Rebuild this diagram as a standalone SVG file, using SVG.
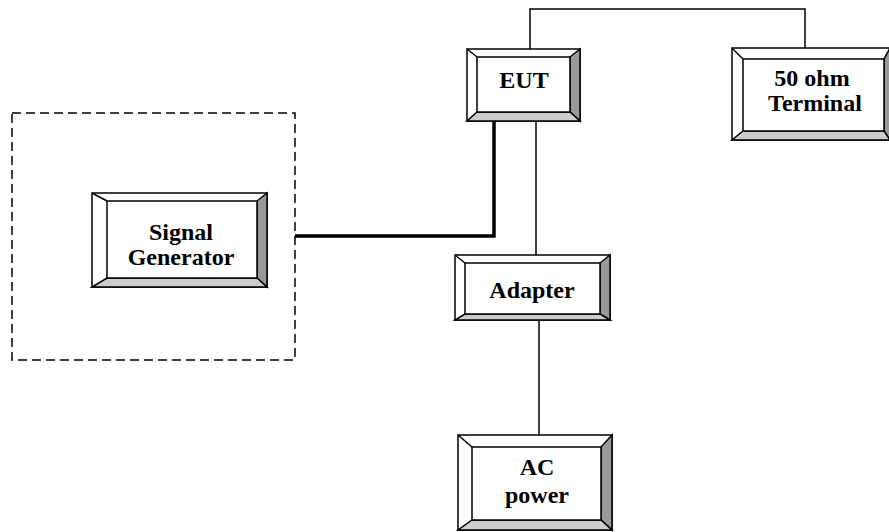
<svg xmlns="http://www.w3.org/2000/svg" width="889" height="532" viewBox="0 0 889 532">
<style>
.o{fill:#fff;stroke:#000;stroke-width:1.5}
.r{fill:#999;stroke:#000;stroke-width:1.5;stroke-linejoin:miter}
.b{fill:#ccc;stroke:#000;stroke-width:1.5}
.i{fill:#fff;stroke:#000;stroke-width:1.5}
.d{stroke:#000;stroke-width:1.5}
.t{font-family:"Liberation Serif","Times New Roman",serif;font-weight:bold;font-size:24px;text-anchor:middle;fill:#000}
.w{fill:none;stroke:#000;stroke-width:1.5}
.k{fill:none;stroke:#000;stroke-width:3.5}
.dash{fill:none;stroke:#000;stroke-width:1.5;stroke-dasharray:9,5}
</style>
<rect class="dash" x="12" y="113" width="283" height="247"/>
<g id="connectors">
<polyline class="w" points="530,49 530,9 805,9 805,48"/>
<polyline class="k" points="295,236 494,236 494,121"/>
<line class="w" x1="536" y1="121" x2="536" y2="255"/>
<line class="w" x1="539" y1="320" x2="539" y2="435"/>
</g>
<g id="eut">
<rect class="o" x="467" y="49" width="113" height="72"/>
<polygon class="r" points="580,49 580,121 570,112 570,57"/>
<polygon class="b" points="467,121 580,121 570,112 477,112"/>
<line class="d" x1="467" y1="49" x2="477" y2="57"/>
<rect class="i" x="477" y="57" width="93" height="55"/>
<text class="t" x="524" y="88">EUT</text>
</g>
<g id="terminal">
<rect class="o" x="732" y="48" width="158" height="92"/>
<polygon class="r" points="890,48 890,140 884,131 884,59"/>
<polygon class="b" points="732,140 890,140 884,131 743,131"/>
<line class="d" x1="732" y1="48" x2="743" y2="59"/>
<rect class="i" x="743" y="59" width="141" height="72"/>
<text class="t" x="812" y="86">50 ohm</text>
<text class="t" x="815" y="111">Terminal</text>
</g>
<g id="siggen">
<rect class="o" x="92" y="193" width="175" height="94"/>
<polygon class="r" points="267,193 267,287 257,278 257,201"/>
<polygon class="b" points="92,287 267,287 257,278 107,278"/>
<line class="d" x1="92" y1="193" x2="107" y2="201"/>
<rect class="i" x="107" y="201" width="150" height="77"/>
<text class="t" x="181" y="240">Signal</text>
<text class="t" x="181" y="265">Generator</text>
</g>
<g id="adapter">
<rect class="o" x="455" y="255" width="155" height="65"/>
<polygon class="r" points="610,255 610,320 600,314 600,263"/>
<polygon class="b" points="455,320 610,320 600,314 465,314"/>
<line class="d" x1="455" y1="255" x2="465" y2="263"/>
<rect class="i" x="465" y="263" width="135" height="51"/>
<text class="t" x="532" y="298">Adapter</text>
</g>
<g id="acpower">
<rect class="o" x="458" y="435" width="154" height="95"/>
<polygon class="r" points="612,435 612,530 601,520 601,447"/>
<polygon class="b" points="458,530 612,530 601,520 472,520"/>
<line class="d" x1="458" y1="435" x2="472" y2="447"/>
<rect class="i" x="472" y="447" width="129" height="73"/>
<text class="t" x="537" y="475">AC</text>
<text class="t" x="537" y="503">power</text>
</g>
</svg>
